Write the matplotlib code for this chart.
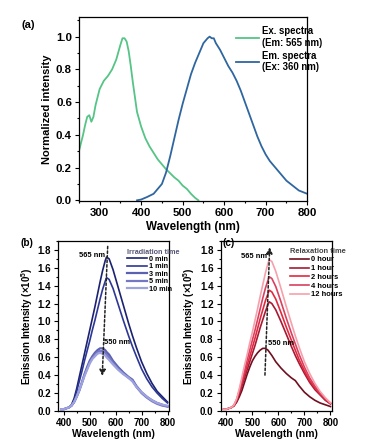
import numpy as np
import matplotlib
matplotlib.use("Agg")
import matplotlib.pyplot as plt
from matplotlib.ticker import MultipleLocator

plt.rcParams['font.family'] = ['Liberation Sans', 'DejaVu Sans']
plt.rcParams['font.weight'] = 'bold'
plt.rcParams['axes.labelweight'] = 'bold'
plt.rcParams['mathtext.default'] = 'regular'

# ---- panel (a): normalized excitation / emission spectra
ex_wl = [250, 255, 260, 265, 270, 275, 280, 285, 290, 300, 310, 320, 330, 340, 350,
         355, 360, 365, 370, 375, 380, 390, 400, 410, 420, 440, 460, 480, 490, 500,
         510, 520, 530, 538]
ex_int = [0.30, 0.35, 0.40, 0.46, 0.51, 0.52, 0.48, 0.51, 0.58, 0.68, 0.73, 0.76, 0.80,
          0.86, 0.95, 0.99, 0.99, 0.97, 0.91, 0.82, 0.72, 0.54, 0.45, 0.38, 0.33, 0.25,
          0.19, 0.14, 0.12, 0.09, 0.07, 0.04, 0.015, 0.0]

em_wl = [390, 400, 414, 430, 440, 450, 460, 470, 480, 490, 500, 510, 520, 530, 540, 550,
         560, 565, 570, 575, 580, 590, 600, 610, 620, 630, 640, 650, 660, 670, 680, 690,
         700, 710, 720, 730, 740, 750, 760, 770, 780, 790, 800]
em_int = [0.0, 0.005, 0.02, 0.04, 0.07, 0.10, 0.17, 0.27, 0.38, 0.49, 0.59, 0.68, 0.77,
          0.84, 0.90, 0.96, 0.99, 1.0, 0.99, 0.99, 0.96, 0.92, 0.87, 0.82, 0.78, 0.73,
          0.67, 0.60, 0.53, 0.46, 0.39, 0.33, 0.28, 0.24, 0.21, 0.18, 0.15, 0.12, 0.10,
          0.08, 0.06, 0.05, 0.04]

# ---- panels (b) and (c): emission intensity (x10^5)
wl = [390, 400, 420, 430, 440, 450, 460, 470, 480, 490, 500, 510, 520, 530, 540, 550,
      560, 565, 575, 590, 610, 630, 650, 665, 680, 700, 720, 740, 760, 780, 800]

irr_labels = ["0 min", "1 min", "3 min", "5 min", "10 min"]
irr_0 = [0.02, 0.02, 0.04, 0.07, 0.14, 0.25, 0.38, 0.51, 0.64, 0.77, 0.90, 1.03, 1.16, 1.30,
         1.44, 1.57, 1.68, 1.72, 1.70, 1.58, 1.38, 1.18, 0.98, 0.84, 0.71, 0.55, 0.42, 0.31,
         0.22, 0.16, 0.10]
irr_1 = [0.02, 0.02, 0.04, 0.06, 0.12, 0.22, 0.33, 0.44, 0.56, 0.67, 0.78, 0.90, 1.01, 1.13,
         1.25, 1.36, 1.45, 1.49, 1.47, 1.37, 1.19, 1.01, 0.84, 0.72, 0.61, 0.47, 0.36, 0.27,
         0.20, 0.14, 0.09]
irr_3 = [0.02, 0.02, 0.04, 0.06, 0.10, 0.16, 0.23, 0.32, 0.41, 0.49, 0.56, 0.61, 0.65, 0.68,
         0.70, 0.70, 0.68, 0.66, 0.63, 0.56, 0.49, 0.43, 0.38, 0.35, 0.28, 0.21, 0.16, 0.12,
         0.09, 0.07, 0.05]
irr_5 = [0.02, 0.02, 0.04, 0.06, 0.10, 0.16, 0.23, 0.31, 0.40, 0.47, 0.54, 0.59, 0.63, 0.66,
         0.67, 0.67, 0.65, 0.63, 0.60, 0.54, 0.47, 0.42, 0.37, 0.34, 0.27, 0.20, 0.15, 0.11,
         0.08, 0.06, 0.05]
irr_10 = [0.02, 0.02, 0.04, 0.06, 0.10, 0.16, 0.23, 0.31, 0.39, 0.46, 0.53, 0.58, 0.61, 0.64,
          0.65, 0.64, 0.62, 0.60, 0.57, 0.52, 0.46, 0.41, 0.37, 0.33, 0.27, 0.21, 0.16, 0.12,
          0.09, 0.07, 0.06]

rel_labels = ["0 hour", "1 hour", "2 hours", "4 hours", "12 hours"]
rel_0 = [0.02, 0.02, 0.04, 0.06, 0.10, 0.16, 0.23, 0.32, 0.41, 0.49, 0.56, 0.61, 0.65, 0.68,
         0.70, 0.70, 0.68, 0.66, 0.62, 0.55, 0.48, 0.42, 0.37, 0.34, 0.28, 0.21, 0.16, 0.12,
         0.09, 0.07, 0.05]
rel_1 = [0.02, 0.02, 0.04, 0.06, 0.11, 0.19, 0.28, 0.37, 0.46, 0.55, 0.64, 0.73, 0.83, 0.93,
         1.02, 1.11, 1.19, 1.22, 1.20, 1.13, 1.00, 0.86, 0.72, 0.62, 0.53, 0.42, 0.32, 0.24,
         0.18, 0.12, 0.08]
rel_2 = [0.02, 0.02, 0.04, 0.06, 0.12, 0.21, 0.31, 0.41, 0.51, 0.61, 0.71, 0.81, 0.92, 1.03,
         1.13, 1.23, 1.31, 1.35, 1.33, 1.25, 1.10, 0.94, 0.79, 0.68, 0.57, 0.45, 0.34, 0.26,
         0.19, 0.13, 0.08]
rel_4 = [0.02, 0.02, 0.04, 0.07, 0.13, 0.23, 0.34, 0.45, 0.57, 0.68, 0.79, 0.90, 1.02, 1.14,
         1.26, 1.37, 1.46, 1.50, 1.48, 1.39, 1.22, 1.04, 0.87, 0.75, 0.63, 0.49, 0.37, 0.28,
         0.20, 0.14, 0.09]
rel_12 = [0.02, 0.02, 0.04, 0.07, 0.14, 0.25, 0.38, 0.51, 0.63, 0.76, 0.88, 1.01, 1.14, 1.28,
          1.41, 1.54, 1.65, 1.69, 1.67, 1.56, 1.37, 1.17, 0.98, 0.84, 0.71, 0.55, 0.42, 0.31,
          0.22, 0.15, 0.09]

irr_colors = ["#1b2270", "#2c3795", "#5c60b2", "#7478c2", "#9ea2de"]
irr_lw = [1.2, 1.2, 1.6, 1.6, 1.6]
rel_colors = ["#6e1020", "#a61a33", "#e2283e", "#d9405e", "#f6a0ac"]


def style_axes(ax, fs):
    ax.tick_params(which='both', direction='out', top=False, right=False,
                   labelsize=fs, width=0.8, pad=2)
    ax.tick_params(which='major', length=3)
    ax.tick_params(which='minor', length=1.6)
    for s in ax.spines.values():
        s.set_linewidth(0.9)


fig = plt.figure(figsize=(3.67, 4.47), dpi=100)

# (a)
ax_a = fig.add_axes([0.215, 0.550, 0.622, 0.412])
ax_a.plot(ex_wl, ex_int, color="#55c486", lw=1.3, label="Ex. spectra\n(Em: 565 nm)")
ax_a.plot(em_wl, em_int, color="#2f66a0", lw=1.3, label="Em. spectra\n(Ex: 360 nm)")
ax_a.set_xlim(250, 800)
ax_a.set_ylim(-0.005, 1.12)
ax_a.xaxis.set_major_locator(MultipleLocator(100))
ax_a.xaxis.set_minor_locator(MultipleLocator(50))
ax_a.yaxis.set_major_locator(MultipleLocator(0.2))
ax_a.yaxis.set_minor_locator(MultipleLocator(0.1))
ax_a.yaxis.set_major_formatter(lambda v, p: f"{v:.1f}")
style_axes(ax_a, 8.2)
ax_a.set_xlabel("Wavelength (nm)", fontsize=8.4, labelpad=2)
ax_a.set_ylabel("Normalized intensity", fontsize=8.0, labelpad=3)
ax_a.legend(loc='upper left', frameon=False, fontsize=6.9, handlelength=2.4,
            handletextpad=0.3, labelspacing=0.3, borderaxespad=0, borderpad=0,
            bbox_to_anchor=(0.69, 0.95))
fig.text(0.058, 0.937, "(a)", fontsize=8, fontweight='bold')

# (b)
ax_b = fig.add_axes([0.158, 0.0805, 0.302, 0.3805])
for y, c, lab, lw in zip([irr_0, irr_1, irr_3, irr_5, irr_10], irr_colors, irr_labels, irr_lw):
    ax_b.plot(wl, y, color=c, lw=lw, label=lab)
# (c)
ax_c = fig.add_axes([0.601, 0.0805, 0.303, 0.3805])
for y, c, lab in zip([rel_0, rel_1, rel_2, rel_4, rel_12], rel_colors, rel_labels):
    ax_c.plot(wl, y, color=c, lw=1.2, label=lab)

for ax in (ax_b, ax_c):
    ax.set_xlim(378, 805)
    ax.set_ylim(0, 1.9)
    ax.xaxis.set_major_locator(MultipleLocator(100))
    ax.xaxis.set_minor_locator(MultipleLocator(50))
    ax.yaxis.set_major_locator(MultipleLocator(0.2))
    ax.yaxis.set_minor_locator(MultipleLocator(0.1))
    ax.yaxis.set_major_formatter(lambda v, p: f"{v:.1f}")
    style_axes(ax, 7.0)
    ax.set_xlabel("Wavelength (nm)", fontsize=7.4, labelpad=1)
    ax.set_ylabel(r"Emission Intensity ($\times$10$^5$)", fontsize=7.0, labelpad=2)

dash = (0, (1.6, 1.4))
# peak-shift arrows
ax_b.annotate("", xy=(548, 0.36), xytext=(570, 1.87),
              arrowprops=dict(arrowstyle='-|>', linestyle=dash, lw=1.1,
                              color='#222222', mutation_scale=9))
ax_b.text(560, 1.74, "565 nm", fontsize=5.4, ha='right', va='center')
ax_b.text(557, 0.77, "550 nm", fontsize=5.4, ha='left', va='center')
leg_b = ax_b.legend(title="Irradiation time", loc='upper left', bbox_to_anchor=(0.625, 0.955),
                    frameon=False, fontsize=5.2, title_fontsize=5.2, handlelength=2.7,
                    handletextpad=0.3, labelspacing=0.05, borderaxespad=0, borderpad=0)
leg_b.get_title().set_fontweight('bold')
leg_b.get_title().set_color('#555577')
leg_b._legend_box.align = 'left'

ax_c.annotate("", xy=(567, 1.86), xytext=(548, 0.37),
              arrowprops=dict(arrowstyle='-|>', linestyle=dash, lw=1.1,
                              color='#222222', mutation_scale=9))
ax_c.text(558, 1.73, "565 nm", fontsize=5.4, ha='right', va='center')
ax_c.text(561, 0.75, "550 nm", fontsize=5.4, ha='left', va='center')
leg_c = ax_c.legend(title="Relaxation time", loc='upper left', bbox_to_anchor=(0.62, 0.96),
                    frameon=False, fontsize=5.4, title_fontsize=5.4, handlelength=2.6,
                    handletextpad=0.3, labelspacing=0.2, borderaxespad=0, borderpad=0)
leg_c.get_title().set_fontweight('bold')
leg_c.get_title().set_color('#444444')
leg_c._legend_box.align = 'left'

fig.text(0.057, 0.450, "(b)", fontsize=7.2, fontweight='bold')
fig.text(0.606, 0.450, "(c)", fontsize=7.2, fontweight='bold')

fig.savefig("out.png", dpi=100)
